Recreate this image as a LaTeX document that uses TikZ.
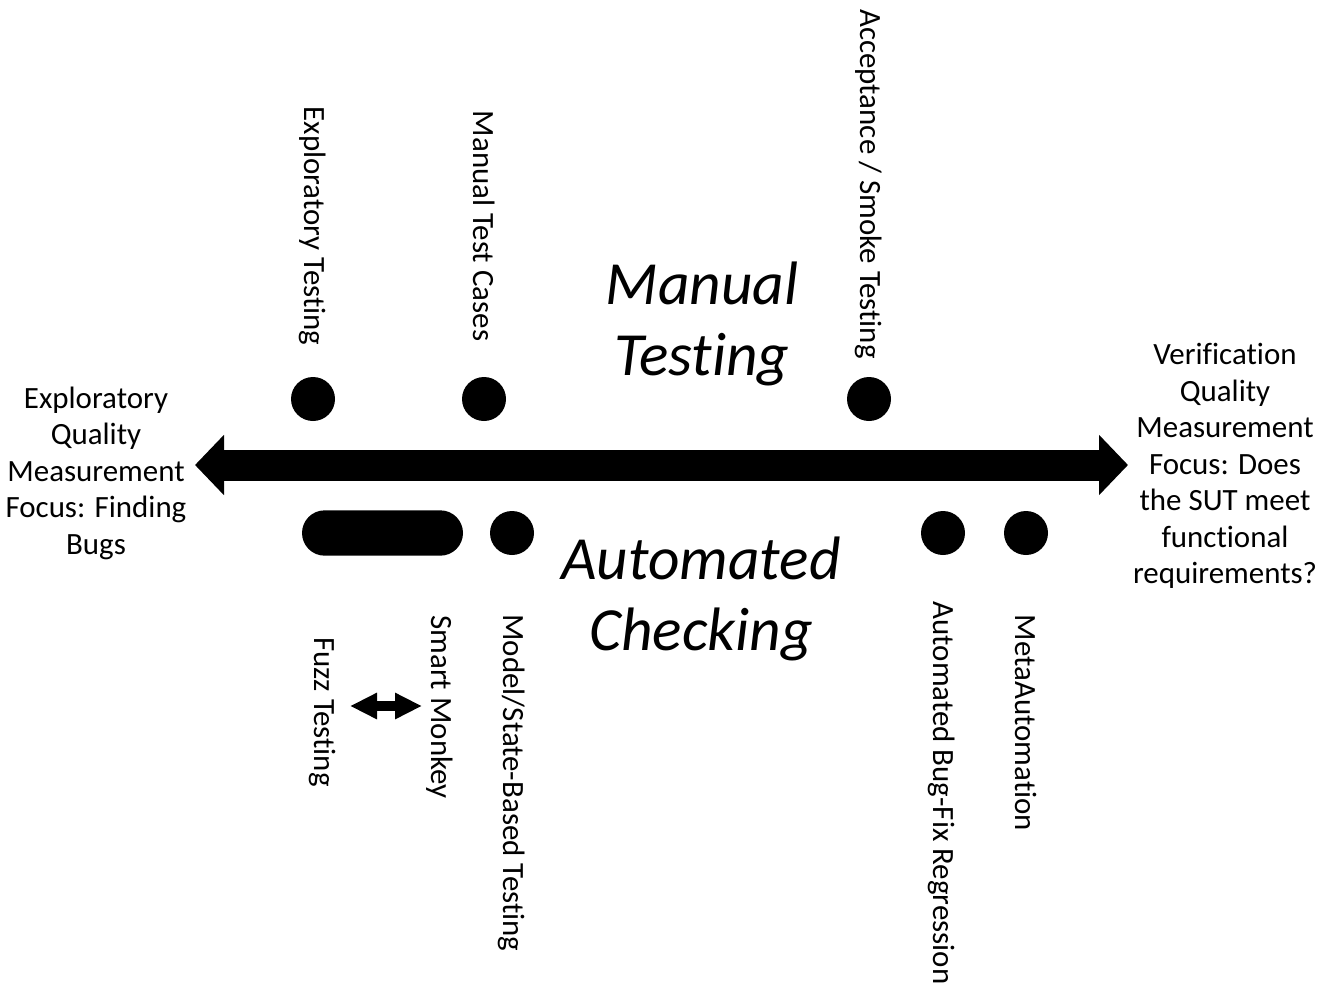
\documentclass[tikz,border=0pt]{standalone}
\usepackage{fontspec}
\setmainfont[Ligatures={NoCommon}]{Carlito}
\usetikzlibrary{arrows.meta}

\tikzset{
  lbl/.style={font=\fontsize{23.2}{27.4}\selectfont, inner sep=0pt, align=center},
  vlbl/.style={font=\fontsize{23.2}{27.4}\selectfont, inner sep=0pt, rotate=-90},
  big/.style={font=\fontsize{46}{53.5}\selectfont\itshape, inner sep=0pt, align=center},
  dot/.style={circle, fill=black, minimum size=33pt, inner sep=0pt},
  pill/.style={rectangle, fill=black, rounded corners=17pt, minimum width=120.75pt, minimum height=34pt, inner sep=0pt},
  axis/.style={line width=23.25pt, {Triangle[length=21.75pt,width=44pt]}-{Triangle[length=21.75pt,width=44pt]}},
  swap/.style={line width=7.5pt, {Triangle[length=20.25pt,width=18.5pt]}-{Triangle[length=20.25pt,width=18.5pt]}}
}

\begin{document}
\begin{tikzpicture}[x=0.75pt,y=-0.75pt]
\useasboundingbox (0,0) rectangle (1330,985);

% the horizontal scale
\coordinate (axL) at (195,465);
\coordinate (axR) at (1128,465);
\draw[axis] (axL) -- (axR);

% end-point descriptions
\node[lbl] (left) at (96,473) {Exploratory\\Quality\\Measurement\\Focus: Finding\\Bugs};
\node[lbl] (right) at (1225,466) {Verification\\Quality\\Measurement\\Focus: Does\\the SUT meet\\functional\\requirements?};

% headings
\node[big] (manual) at (702,324) {Manual\\Testing};
\node[big] (auto) at (701,599) {Automated\\Checking};

% manual testing points
\node[dot] (d1) at (313,399) {};
\node[dot] (d2) at (484,399) {};
\node[dot] (d3) at (869,399) {};
\node[vlbl] (t1) at (313,226) {Exploratory Testing};
\node[vlbl] (t2) at (484,226) {Manual Test Cases};
\node[vlbl] (t3) at (869,184) {Acceptance / Smoke Testing};

% automated checking points
\node[pill] (p1) at (382.5,533) {};
\node[dot] (d4) at (512,533) {};
\node[dot] (d5) at (943,533) {};
\node[dot] (d6) at (1026,533) {};
\node[vlbl] (b1) at (322,712) {Fuzz Testing};
\node[vlbl] (b2) at (440,707) {Smart Monkey};
\node[vlbl] (b3) at (512,783) {Model/State-Based Testing};
\node[vlbl] (b4) at (942,793) {Automated Bug-Fix Regression};
\node[vlbl] (b5) at (1026,723) {MetaAutomation};

% fuzz testing <-> smart monkey
\coordinate (sL) at (350,706);
\coordinate (sR) at (422,706);
\draw[swap] (sL) -- (sR);
\end{tikzpicture}
\end{document}
